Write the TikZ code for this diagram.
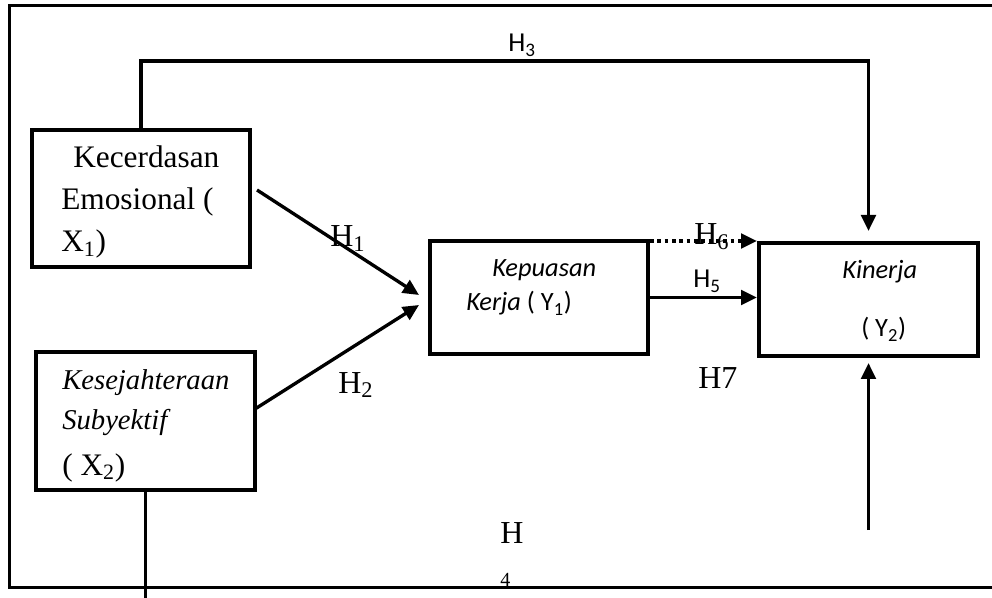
\documentclass[tikz,border=0pt]{standalone}
\usepackage{fontspec}
\setmainfont{Liberation Serif}
\newfontfamily\calib{Carlito}
\usetikzlibrary{arrows.meta}
\tikzset{
  box/.style={draw, line width=3pt, inner sep=0pt},
  arr/.style={line width=2.5pt, -{Triangle[length=12pt,width=11pt]}},
  txt/.style={anchor=base west, inner sep=0pt, font=\fontsize{23.5}{28}\selectfont},
  itxt/.style={anchor=base west, inner sep=0pt, font=\itshape\fontsize{21.5}{26}\selectfont},
  stxt/.style={anchor=base west, inner sep=0pt, font=\calib\fontsize{19.8}{24}\selectfont},
  hlbl/.style={anchor=base west, inner sep=0pt, font=\fontsize{24}{28}\selectfont},
  hsans/.style={anchor=base west, inner sep=0pt, font=\calib\fontsize{20.5}{24}\selectfont}
}
\begin{document}
\begin{tikzpicture}[x=0.75pt,y=-0.75pt]
  \useasboundingbox (0,0) rectangle (992,598);
  % bingkai luar
  \draw[line width=2.25pt] (992,6) -- (9,6) -- (9,587) -- (992,587);

  % kotak variabel
  \node[box, minimum width=163.5pt, minimum height=102.75pt] (x1) at (141,198.5) {};
  \node[box, minimum width=164.25pt, minimum height=103.5pt] (x2) at (145.5,421) {};
  \node[box, minimum width=163.5pt, minimum height=84.75pt] (y1) at (539,297.5) {};
  \node[box, minimum width=164.25pt, minimum height=84.75pt] (y2) at (868.5,299.5) {};

  % teks dalam kotak
  \node[txt] (x1a) at (73,168) {Kecerdasan};
  \node[txt] (x1b) at (61,210) {Emosional (};
  \node[txt] (x1c) at (61,252) {X\textsubscript{1})};
  \node[itxt] (x2a) at (62,390) {Kesejahteraan};
  \node[itxt] (x2b) at (62,429) {Subyektif};
  \node[txt] (x2c) at (62,475) {( X\textsubscript{2})};
  \node[stxt] (y1a) at (492,277) {\itshape Kepuasan};
  \node[stxt] (y1b) at (466,311) {{\itshape Kerja} ( Y\textsubscript{1})};
  \node[stxt] (y2a) at (842,279) {\itshape Kinerja};
  \node[stxt] (y2b) at (861,337) {( Y\textsubscript{2})};

  % panah hipotesis
  \draw[arr] ([shift={(5,-8.5)}]x1.east) -- ([shift={(-9,-2.5)}]y1.west);
  \draw[arr] ([shift={(-2,-12)}]x2.east) -- ([shift={(-9,7.5)}]y1.west);
  \draw[arr] (x1.north) -- ++(0,-67) -| ([yshift=7.5pt]y2.north);
  \draw[arr, dash pattern=on 2.75pt off 2.75pt] (y2.north west -| y1.east) -- (y2.north west);
  \draw[arr] (y1.east) -- (y1.east -| y2.west);
  \coordinate (kbawah) at (868.5,530);
  \draw[arr] (kbawah) -- ([yshift=-3.75pt]y2.south);
  \coordinate (xbawah) at (145.5,598);
  \draw[line width=2.5pt] (x2.south) -- (xbawah);

  % label
  \node[hsans] (h3) at (508,52) {H\textsubscript{3}};
  \node[hlbl] (h1) at (330,247) {H\textsubscript{1}};
  \node[hlbl] (h2) at (338,393) {H\textsubscript{2}};
  \node[hlbl] (h6) at (694,245) {H\textsubscript{6}};
  \node[hsans] (h5) at (693,288) {H\textsubscript{5}};
  \node[hlbl] (h7) at (698,388) {H7};
  \node[hlbl] (h4) at (500,543) {H};
  \node[anchor=base west, inner sep=0pt, font=\fontsize{15}{17}\selectfont] (h4b) at (500,586) {4};
\end{tikzpicture}
\end{document}
